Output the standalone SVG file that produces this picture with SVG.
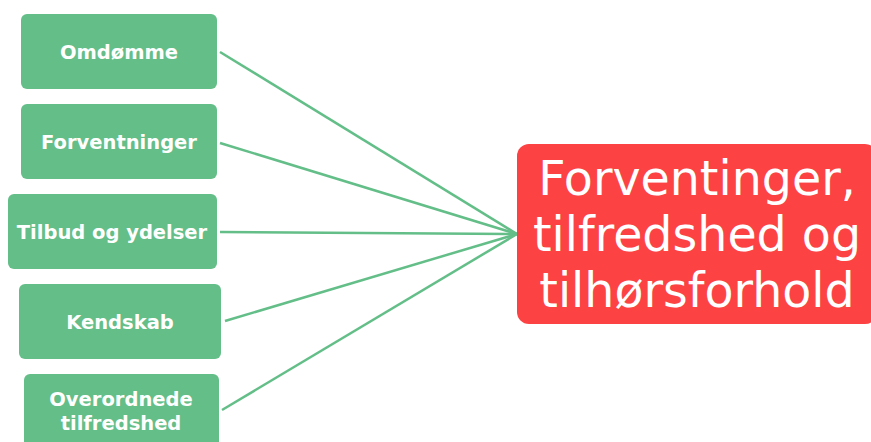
<svg xmlns="http://www.w3.org/2000/svg" width="871" height="442" viewBox="0 0 871 442">
<style>
.box{fill:#63BE88;}
.lbl{fill:#fff;font-family:"DejaVu Sans",sans-serif;font-weight:bold;font-size:19.5px;text-anchor:middle;}
.big{fill:#fff;font-family:"DejaVu Sans",sans-serif;font-size:47.5px;text-anchor:middle;}
.conn{stroke:#63BE88;stroke-width:2.5;fill:none;}
</style>
<rect width="871" height="442" fill="#fff"/>
<g id="connectors">
<line class="conn" x1="220" y1="52" x2="517" y2="234"/>
<line class="conn" x1="220" y1="143" x2="517" y2="234"/>
<line class="conn" x1="220" y1="232" x2="517" y2="234"/>
<line class="conn" x1="225" y1="321" x2="517" y2="234"/>
<line class="conn" x1="222" y1="410" x2="517" y2="234"/>
</g>
<g id="n1"><rect class="box" x="21" y="14" width="196" height="75" rx="6"/><text class="lbl" x="119" y="59">Omdømme</text></g>
<g id="n2"><rect class="box" x="21" y="104" width="196" height="75" rx="6"/><text class="lbl" x="119" y="149">Forventninger</text></g>
<g id="n3"><rect class="box" x="8" y="194" width="209" height="75" rx="6"/><text class="lbl" x="112" y="239">Tilbud og ydelser</text></g>
<g id="n4"><rect class="box" x="19" y="284" width="202" height="75" rx="6"/><text class="lbl" x="120" y="329">Kendskab</text></g>
<g id="n5"><rect class="box" x="24" y="374" width="195" height="80" rx="6"/><text class="lbl" x="121" y="406">Overordnede</text><text class="lbl" x="121" y="430">tilfredshed</text></g>
<g id="center"><rect x="517" y="144" width="360" height="180" rx="12" fill="#FD4244"/>
<text class="big" x="697" y="195">Forventinger,</text>
<text class="big" x="697" y="251">tilfredshed og</text>
<text class="big" x="697" y="307">tilhørsforhold</text></g>
</svg>
